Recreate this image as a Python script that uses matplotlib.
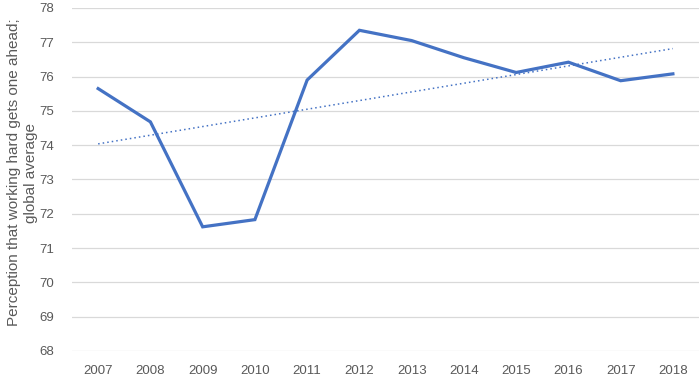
import numpy as np
import matplotlib
matplotlib.use("Agg")
import matplotlib.pyplot as plt

# --------------------------------
# Data
# --------------------------------
years = ["2007", "2008", "2009", "2010", "2011", "2012",
         "2013", "2014", "2015", "2016", "2017", "2018"]
perception = [75.65, 74.68, 71.62, 71.83, 75.9, 77.35,
              77.05, 76.55, 76.12, 76.42, 75.88, 76.08]

x = np.arange(len(years))

# linear trendline (like Excel's)
slope, intercept = np.polyfit(x, perception, 1)
trend = slope * x + intercept

plt.rcParams['font.family'] = ['Liberation Sans', 'DejaVu Sans']
grey = "#595959"
blue = "#4472C4"

fig = plt.figure(figsize=(7, 3.79), dpi=100)
ax = fig.add_axes([0.1029, 0.0739, 0.8957, 0.905])

for y in range(68, 79):
    ax.axhline(y, color="#d9d9d9", lw=0.9, zorder=0)

ax.plot(x, perception, color=blue, lw=2.3, solid_joinstyle="miter", zorder=3)
ax.plot(x, trend, color=blue, lw=1.1, linestyle=(0, (1, 2)), zorder=2)

ax.set_xlim(-0.5, len(years) - 0.5)
ax.set_ylim(68, 78)
ax.set_xticks(x)
ax.set_xticklabels(years)
ax.set_yticks(range(68, 79))
ax.tick_params(length=0, labelsize=9.5, colors=grey, pad=10)
ax.tick_params(axis="y", pad=13)
for s in ax.spines.values():
    s.set_visible(False)

ax.set_ylabel("Perception that working hard gets one ahead;\nglobal average",
              color=grey, fontsize=11, linespacing=1.3)
ax.yaxis.set_label_coords(-0.054, 0.52)

fig.savefig("out.png", dpi=100)
